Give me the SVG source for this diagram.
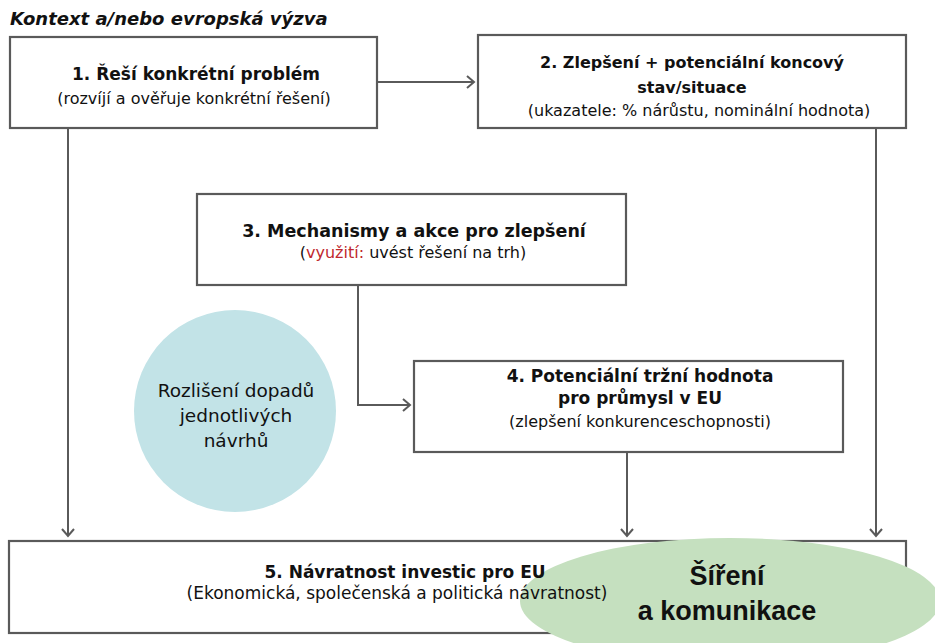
<svg xmlns="http://www.w3.org/2000/svg" width="935" height="643" viewBox="0 0 935 643">
  <style>
    .box { fill: #ffffff; stroke: #5a5a5a; stroke-width: 2.2; }
    .t { font-family: "DejaVu Sans", "Liberation Sans", sans-serif; fill: #111; text-anchor: middle; }
    .h { font-size: 17px; font-weight: bold; }
    .s { font-size: 16px; }
    .c { font-size: 18.5px; }
    .big { font-family: "Liberation Sans", "DejaVu Sans", sans-serif; font-size: 27px; font-weight: bold; }
    .red { fill: #c0282d; }
    .conn { fill: none; stroke: #5a5a5a; stroke-width: 2; }
  </style>
  <defs>
    <marker id="arrow" viewBox="0 0 10 14" refX="8" refY="7" markerWidth="10" markerHeight="14" markerUnits="userSpaceOnUse" orient="auto">
      <path d="M1,1 L8,7 L1,13" fill="none" stroke="#5a5a5a" stroke-width="2"/>
    </marker>
  </defs>
  <rect width="935" height="643" fill="#ffffff"/>

  <text x="10" y="25" font-family="'DejaVu Sans', sans-serif" font-size="18" font-weight="bold" font-style="italic" fill="#111">Kontext a/nebo evropská výzva</text>

  <g id="connectors">
    <path class="conn" d="M377,82 H474" marker-end="url(#arrow)"/>
    <path class="conn" d="M68,128 V536" marker-end="url(#arrow)"/>
    <path class="conn" d="M876,128 V536" marker-end="url(#arrow)"/>
    <path class="conn" d="M358,285 V405 H410" marker-end="url(#arrow)"/>
    <path class="conn" d="M627,452 V536" marker-end="url(#arrow)"/>
  </g>

  <g id="node1">
    <rect class="box" x="10" y="37" width="367" height="91"/>
    <text class="t h" x="196" y="80" font-size="16">1. Řeší konkrétní problém</text>
    <text class="t s" x="194" y="104">(rozvíjí a ověřuje konkrétní řešení)</text>
  </g>

  <g id="node2">
    <rect class="box" x="478" y="35" width="428" height="93"/>
    <text class="t h" x="692" y="68" style="font-size:16px">2. Zlepšení + potenciální koncový</text>
    <text class="t h" x="692" y="93" style="font-size:16px">stav/situace</text>
    <text class="t s" x="699" y="116">(ukazatele: % nárůstu, nominální hodnota)</text>
  </g>

  <g id="node3">
    <rect class="box" x="197" y="194" width="429" height="91"/>
    <text class="t h" x="414" y="237" style="font-size:17.5px">3. Mechanismy a akce pro zlepšení</text>
    <text class="t s" x="413" y="258">(<tspan class="red">využití:</tspan> uvést řešení na trh)</text>
  </g>

  <g id="node4">
    <rect class="box" x="414" y="361" width="429" height="91"/>
    <text class="t h" x="640" y="382">4. Potenciální tržní hodnota</text>
    <text class="t h" x="640" y="404">pro průmysl v EU</text>
    <text class="t s" x="640" y="427">(zlepšení konkurenceschopnosti)</text>
  </g>

  <g id="impact-circle">
    <circle cx="235" cy="411" r="101" fill="#c2e3e7"/>
    <text class="t c" x="236" y="397">Rozlišení dopadů</text>
    <text class="t c" x="236" y="422">jednotlivých</text>
    <text class="t c" x="236" y="447">návrhů</text>
  </g>

  <g id="node5">
    <rect class="box" x="9" y="541" width="897" height="92"/>
  </g>

  <g id="dissemination">
    <ellipse cx="730" cy="601" rx="210" ry="63" fill="#c5e0bf"/>
    <text class="t big" x="727" y="585">Šíření</text>
    <text class="t big" x="727" y="620">a komunikace</text>
  </g>

  <g id="node5-label">
    <text class="t h" x="405" y="578">5. Návratnost investic pro EU</text>
    <text class="t s" x="397" y="599" style="font-size:17px">(Ekonomická, společenská a politická návratnost)</text>
  </g>
</svg>
